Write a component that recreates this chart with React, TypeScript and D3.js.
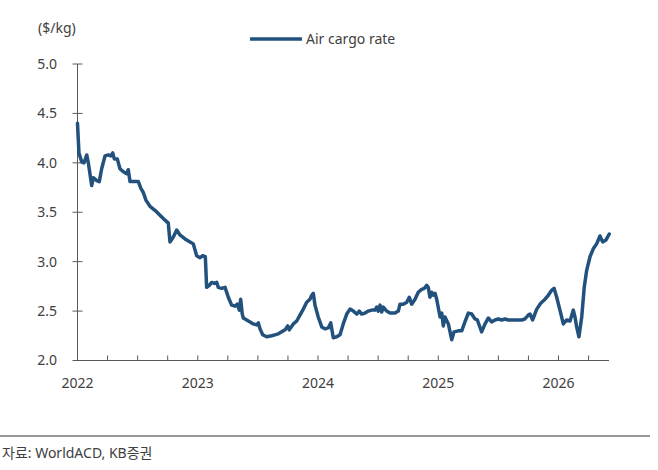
import * as d3 from "d3";

// Air cargo rate ($/kg), time in decimal years
const years: number[] = [
  2022.0, 2022.012, 2022.035, 2022.054, 2022.077, 2022.09, 2022.118, 2022.131, 2022.16, 2022.181,
  2022.201, 2022.229, 2022.256, 2022.276, 2022.293, 2022.306, 2022.331, 2022.353, 2022.381, 2022.409,
  2022.422, 2022.437, 2022.478, 2022.506, 2022.528, 2022.547, 2022.57, 2022.603, 2022.644, 2022.686,
  2022.728, 2022.755, 2022.769, 2022.797, 2022.825, 2022.852, 2022.894, 2022.936, 2022.963, 2022.991,
  2023.019, 2023.041, 2023.063, 2023.074, 2023.096, 2023.116, 2023.138, 2023.158, 2023.171, 2023.199,
  2023.227, 2023.254, 2023.282, 2023.31, 2023.329, 2023.346, 2023.357, 2023.37, 2023.379, 2023.407,
  2023.435, 2023.462, 2023.49, 2023.504, 2023.518, 2023.54, 2023.573, 2023.615, 2023.642, 2023.67,
  2023.698, 2023.726, 2023.748, 2023.761, 2023.795, 2023.823, 2023.85, 2023.878, 2023.906, 2023.933,
  2023.948, 2023.961, 2023.975, 2024.002, 2024.031, 2024.058, 2024.086, 2024.106, 2024.127, 2024.156,
  2024.183, 2024.21, 2024.239, 2024.266, 2024.294, 2024.322, 2024.343, 2024.363, 2024.391, 2024.418,
  2024.447, 2024.474, 2024.488, 2024.501, 2024.516, 2024.53, 2024.543, 2024.571, 2024.599, 2024.64,
  2024.668, 2024.682, 2024.709, 2024.738, 2024.759, 2024.779, 2024.807, 2024.834, 2024.862, 2024.884,
  2024.904, 2024.917, 2024.931, 2024.946, 2024.959, 2024.973, 2024.987, 2025.015, 2025.029, 2025.042,
  2025.056, 2025.084, 2025.112, 2025.131, 2025.167, 2025.195, 2025.222, 2025.25, 2025.278, 2025.306,
  2025.325, 2025.361, 2025.389, 2025.416, 2025.444, 2025.472, 2025.499, 2025.528, 2025.555, 2025.583,
  2025.611, 2025.638, 2025.666, 2025.694, 2025.721, 2025.749, 2025.763, 2025.785, 2025.819, 2025.852,
  2025.888, 2025.915, 2025.943, 2025.963, 2025.985, 2026.012, 2026.04, 2026.068, 2026.096, 2026.123,
  2026.137, 2026.151, 2026.17, 2026.193, 2026.214, 2026.234, 2026.262, 2026.289, 2026.317, 2026.345,
  2026.367, 2026.395, 2026.422,
];

const rates: number[] = [
  4.4, 4.1, 4.01, 4.0, 4.08, 4.0, 3.77, 3.85, 3.82, 3.81,
  3.94, 4.07, 4.08, 4.07, 4.1, 4.04, 4.04, 3.94, 3.91, 3.89,
  3.93, 3.81, 3.81, 3.81, 3.74, 3.7, 3.62, 3.56, 3.52, 3.47,
  3.42, 3.39, 3.2, 3.25, 3.32, 3.27, 3.23, 3.2, 3.18, 3.06,
  3.04, 3.06, 3.05, 2.74, 2.76, 2.79, 2.78, 2.79, 2.74, 2.73,
  2.74, 2.64, 2.56, 2.55, 2.57, 2.51, 2.62, 2.47, 2.43, 2.41,
  2.39, 2.37, 2.36, 2.38, 2.32, 2.26, 2.24, 2.25, 2.26, 2.27,
  2.29, 2.31, 2.35, 2.31, 2.37, 2.4, 2.46, 2.52, 2.59, 2.62,
  2.66, 2.68, 2.56, 2.44, 2.34, 2.32, 2.33, 2.38, 2.23, 2.24,
  2.26, 2.37, 2.47, 2.52, 2.5, 2.47, 2.5, 2.47, 2.48, 2.5,
  2.51, 2.51, 2.54, 2.5, 2.56, 2.49, 2.54, 2.5, 2.48, 2.48,
  2.5, 2.57, 2.57, 2.59, 2.64, 2.57, 2.62, 2.69, 2.72, 2.73,
  2.76, 2.74, 2.64, 2.69, 2.66, 2.68, 2.62, 2.44, 2.48, 2.35,
  2.44, 2.37, 2.21, 2.29, 2.3, 2.3, 2.39, 2.48, 2.47, 2.42,
  2.41, 2.29, 2.37, 2.43, 2.39, 2.41, 2.42, 2.41, 2.42, 2.41,
  2.41, 2.41, 2.41, 2.41, 2.42, 2.46, 2.47, 2.41, 2.52, 2.58,
  2.62, 2.66, 2.71, 2.73, 2.64, 2.51, 2.37, 2.41, 2.4, 2.51,
  2.44, 2.34, 2.24, 2.44, 2.74, 2.91, 3.05, 3.13, 3.18, 3.26,
  3.2, 3.22, 3.28,
];

const yearTicks: number[] = [2022, 2023, 2024, 2025, 2026];
const yTicks: number[] = [2.0, 2.5, 3.0, 3.5, 4.0, 4.5, 5.0];

const seriesName = "Air cargo rate";
const unitLabel = "($/kg)";
const sourceNote = "자료: WorldACD, KB증권";

const W = 658;
const H = 470;
const LINE_COLOR = "#23517d";
const AXIS_COLOR = "#595959";
const TEXT_COLOR = "#404040";
const FONT = "'Noto Sans', 'Noto Sans CJK KR', sans-serif";

const App: React.FC = () => {
  const x = d3.scaleLinear().domain([2022, 2026]).range([77.5, 558.5]);
  const y = d3.scaleLinear().domain([2, 5]).range([360.5, 64]);
  const axisEnd = x(2026.42);

  const quarterTicks = d3.range(2022, 2026.3, 0.25);

  const points = years.map((t, i) => [t, rates[i]] as [number, number]);
  const line = d3
    .line<[number, number]>()
    .x((d) => x(d[0]))
    .y((d) => y(d[1]))
    .curve(d3.curveLinear);

  const x0 = x(2022);
  const yBase = y(2);

  return (
    <svg
      width={W}
      height={H}
      style={{ position: "absolute", left: 0, top: 0, background: "#fff" }}
      fontFamily={FONT}
    >
      {/* unit label */}
      <text x={38} y={33} fontSize={14} fill={TEXT_COLOR}>
        {unitLabel}
      </text>

      {/* legend */}
      <line x1={250} x2={302} y1={39} y2={39} stroke={LINE_COLOR} strokeWidth={3.5} />
      <text x={306} y={44} fontSize={14} fill={TEXT_COLOR}>
        {seriesName}
      </text>

      {/* y axis */}
      <line x1={x0} x2={x0} y1={y(5)} y2={yBase} stroke={AXIS_COLOR} strokeWidth={1} />
      {yTicks.map((v) => (
        <g key={v}>
          <line x1={x0 - 5} x2={x0 + 5} y1={y(v)} y2={y(v)} stroke={AXIS_COLOR} strokeWidth={1} />
          <text
            x={57}
            y={y(v)}
            dy="0.35em"
            textAnchor="end"
            fontSize={14}
            fill={TEXT_COLOR}
          >
            {v.toFixed(1)}
          </text>
        </g>
      ))}

      {/* x axis */}
      <line x1={x0} x2={axisEnd} y1={yBase} y2={yBase} stroke={AXIS_COLOR} strokeWidth={1} />
      {quarterTicks.map((t) => (
        <line
          key={t}
          x1={x(t)}
          x2={x(t)}
          y1={yBase}
          y2={yBase - 5}
          stroke={AXIS_COLOR}
          strokeWidth={1}
        />
      ))}
      {yearTicks.map((t) => (
        <text
          key={t}
          x={x(t)}
          y={388}
          textAnchor="middle"
          fontSize={14}
          fill={TEXT_COLOR}
        >
          {t}
        </text>
      ))}

      {/* series */}
      <path
        d={line(points) ?? ""}
        fill="none"
        stroke={LINE_COLOR}
        strokeWidth={3.5}
        strokeLinejoin="round"
        strokeLinecap="round"
      />

      {/* footer */}
      <line x1={0} x2={650} y1={436} y2={436} stroke="#333" strokeWidth={1.2} />
      <text x={2} y={458} fontSize={14} fill={TEXT_COLOR}>
        {sourceNote}
      </text>
    </svg>
  );
};

export default App;
